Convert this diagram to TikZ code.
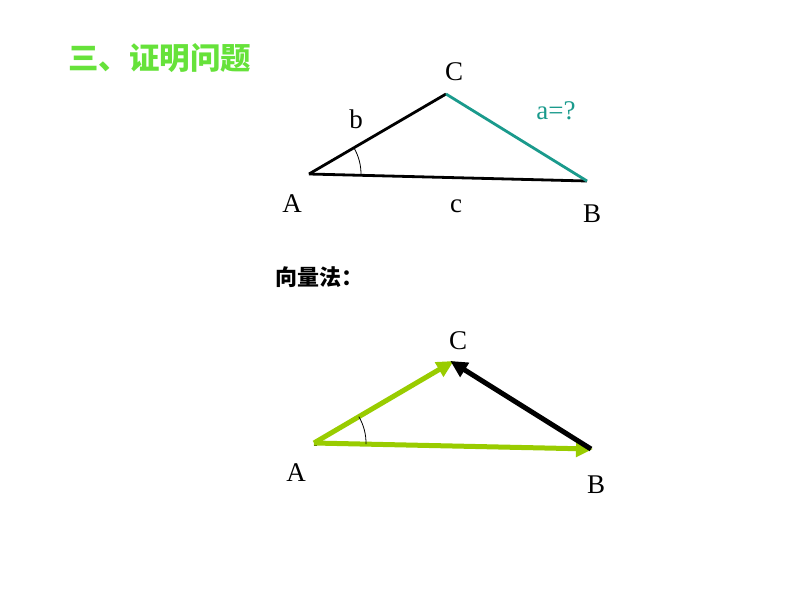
\documentclass[tikz,border=0pt]{standalone}
\usepackage{fontspec}
\setmainfont{Liberation Serif}
\newfontfamily\cjk{Noto Sans CJK SC}
\usetikzlibrary{arrows.meta,calc}
\definecolor{titlegreen}{HTML}{66E23A}
\definecolor{tealc}{HTML}{1A9A8C}
\definecolor{vecgreen}{HTML}{99CC00}
\tikzset{
  lbl/.style={font=\fontsize{27}{30}\selectfont, inner sep=0pt},
  edge/.style={line width=2.8pt},
  vec/.style={line width=5pt, -{Triangle[length=17pt,width=16pt]}, shorten >=-2pt},
  anglearc/.style={line width=0.8pt},
}
\begin{document}
\begin{tikzpicture}[x=1pt,y=-1pt]
\useasboundingbox (0,0) rectangle (794,596);
\node[font=\cjk\bfseries\fontsize{30.5}{32}\selectfont, text=titlegreen, anchor=west, inner sep=0pt] (title) at (68,58) {三、证明问题};
% top triangle
\coordinate (A1) at (309,174);
\coordinate (C1) at (446,94);
\coordinate (B1) at (587,181);
\draw[edge] (A1) -- (C1);
\draw[edge] (A1) -- (B1);
\draw[edge, tealc] (C1) -- (B1);
\draw[anglearc] ($(A1)!52pt!(B1)$) arc[start angle={atan2(-7,278)}, end angle={atan2(80,137)}, radius=52pt];
\node[lbl] (lC1) at (454,72) {C};
\node[lbl] (lb) at (356,119) {b};
\node[lbl, text=tealc] (la) at (556,111) {a=?};
\node[lbl] (lA1) at (292,204) {A};
\node[lbl] (lc) at (456,206) {c};
\node[lbl] (lB1) at (592,214) {B};
% subtitle
\node[font=\cjk\bfseries\fontsize{22}{24}\selectfont, anchor=west, inner sep=0pt] (sub) at (275,277) {向量法：};
% bottom triangle
\coordinate (A2) at (314,443);
\coordinate (C2) at (452,362);
\coordinate (B2) at (591,449);
\draw[line width=5pt] (A2) -- ++(3,0);
\draw[vec, vecgreen] (A2) -- (C2);
\draw[vec, vecgreen] (A2) -- (B2);
\draw[vec, black] (B2) -- (C2);
\draw[anglearc] ($(A2)!52pt!(B2)$) arc[start angle={atan2(-6,277)}, end angle={atan2(81,138)}, radius=52pt];
\node[lbl] (lC2) at (458,341) {C};
\node[lbl] (lA2) at (296,473) {A};
\node[lbl] (lB2) at (596,485) {B};
\end{tikzpicture}
\end{document}
